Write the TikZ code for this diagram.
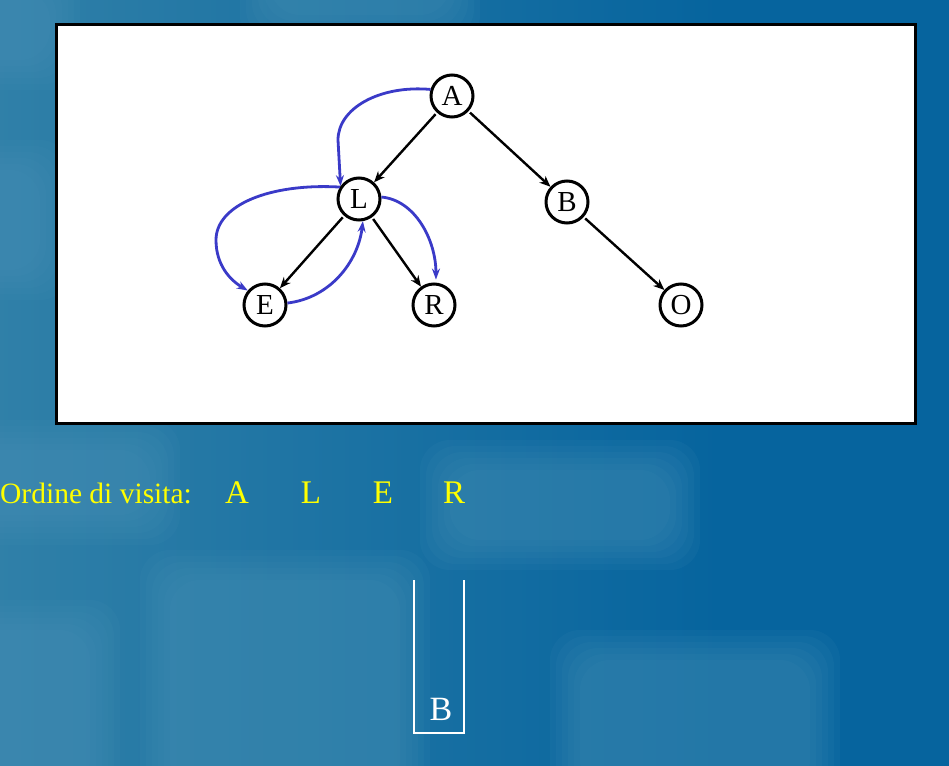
\documentclass[tikz,border=0pt]{standalone}
\usepackage{fontspec}
\setmainfont{Liberation Serif}
\usetikzlibrary{arrows.meta}
\definecolor{deepblue}{RGB}{6,100,158}
\definecolor{keyblue}{RGB}{48,128,168}
\definecolor{keytop}{RGB}{78,150,186}
\definecolor{visitblue}{RGB}{58,58,200}
\definecolor{visityellow}{RGB}{255,255,0}

% a soft, out-of-focus key cap: stacked translucent rounded boxes
\newcommand\softkey[4]{%
  \foreach \k in {0,...,5}{%
    \fill[keytop,opacity=0.09,rounded corners=30pt]
      (#1+\k*6,#2+\k*6) rectangle (#3-\k*6,#4-\k*6);}}

\begin{document}
\begin{tikzpicture}[x=1pt,y=-1pt,
  treenode/.style={circle,draw,line width=3pt,fill=white,minimum size=42pt,
    inner sep=0pt,font=\fontsize{29}{29}\selectfont},
  treeedge/.style={line width=2.4pt,shorten <=2pt,-{Stealth[length=11pt,width=9pt]}},
  visit/.style={draw=visitblue,line width=2.8pt,-{Stealth[length=11pt,width=8pt]}},
  order/.style={text=visityellow,anchor=base,inner sep=0pt,font=\fontsize{33}{33}\selectfont},
]
\useasboundingbox (0,0) rectangle (949,765);

% backdrop: blurred keyboard in blue tones
\fill[deepblue] (-5,-5) rectangle (955,770);
\shade[left color=keyblue,right color=deepblue] (-5,-5) rectangle (720,770);
\softkey{-60}{-40}{80}{90}
\softkey{-60}{140}{70}{300}
\softkey{-60}{420}{180}{545}
\softkey{-60}{600}{120}{820}
\softkey{140}{550}{430}{820}
\softkey{420}{440}{700}{570}
\softkey{550}{630}{840}{820}
\softkey{240}{-60}{480}{45}

% tree panel
\draw[line width=3pt,fill=white] (56.5,24.5) rectangle (915.5,423.5);

\node[treenode] (A) at (452,96) {A};
\node[treenode] (L) at (359,199) {L};
\node[treenode] (B) at (567,202) {B};
\node[treenode] (E) at (265,305) {E};
\node[treenode] (R) at (434,305) {R};
\node[treenode] (O) at (681,305) {O};

\draw[treeedge] (A) -- (L);
\draw[treeedge] (A) -- (B);
\draw[treeedge] (L) -- (E);
\draw[treeedge] (L) -- (R);
\draw[treeedge] (B) -- (O);

% depth-first visit path
\draw[visit] (A.163) .. controls (380,85) and (338,108) .. (338,140) -- (L.145);
\draw[visit] (L.148) .. controls (270,183) and (216,205) .. (216,240)
  .. controls (216,265) and (230,280) .. (E.140);
\draw[visit] (E.5) .. controls (330,298) and (358,262) .. (L.-80);
\draw[visit,shorten >=3pt] (L.5) .. controls (415,200) and (436,240) .. (R.85);

% visit order
\node[text=visityellow,anchor=base west,inner sep=0pt,
  font=\fontsize{29.5}{29.5}\selectfont] (label) at (0,503) {Ordine di visita:};
\node[order] (v1) at (237,503) {A};
\node[order] (v2) at (311,503) {L};
\node[order] (v3) at (383,503) {E};
\node[order] (v4) at (454,503) {R};

% stack
\draw[white,line width=2.5pt] (414,580) -- (414,733) -- (464,733) -- (464,580);
\node[text=white,anchor=base,inner sep=0pt,font=\fontsize{34}{34}\selectfont]
  (top) at (441,720) {B};
\end{tikzpicture}
\end{document}
